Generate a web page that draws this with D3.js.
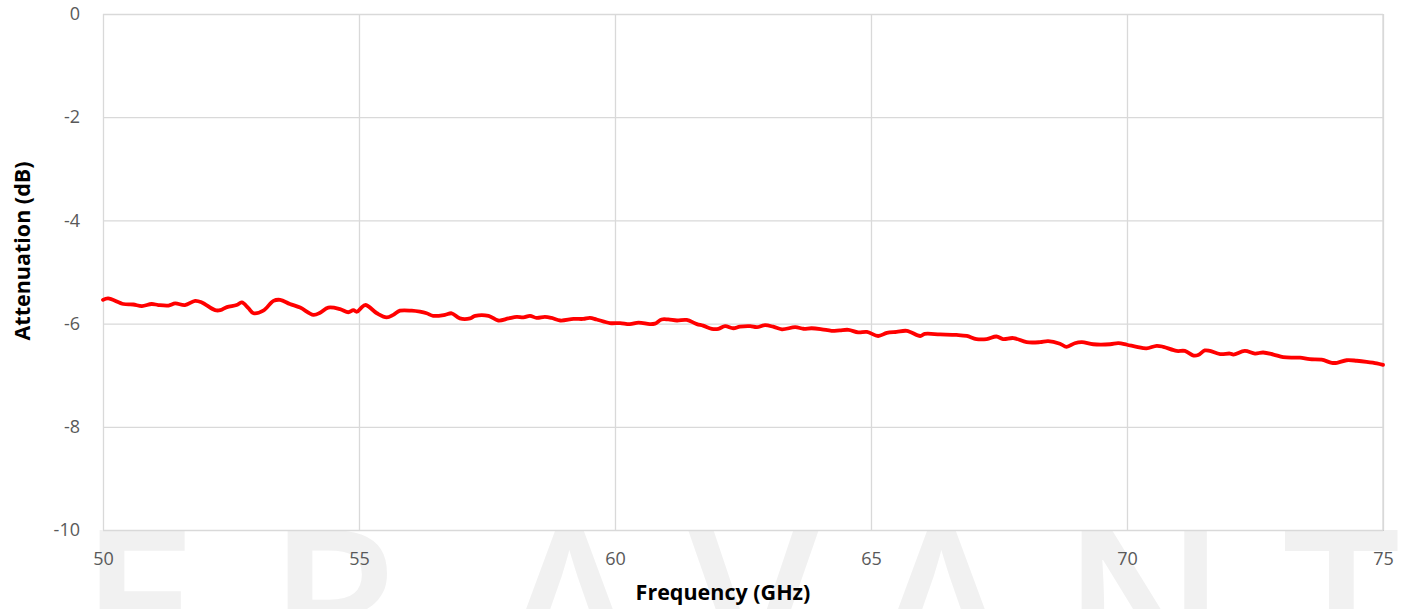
<!DOCTYPE html>
<html><head><meta charset="utf-8">
<script src="https://cdn.jsdelivr.net/npm/d3@7"></script>
<style>
html,body{margin:0;padding:0;background:#fff;}
svg{display:block;}
</style></head>
<body>
<svg id="chart" width="1409" height="609"></svg>
<script>
const freq = [50.00,50.10,50.40,50.59,50.76,50.95,51.08,51.28,51.41,51.60,51.80,51.93,52.19,52.29,52.42,52.61,52.71,52.84,52.94,53.13,53.33,53.46,53.65,53.85,54.11,54.24,54.40,54.63,54.79,54.89,54.96,55.12,55.35,55.54,55.67,55.80,56.03,56.19,56.32,56.45,56.68,56.81,56.97,57.17,57.27,57.53,57.72,57.92,58.08,58.21,58.34,58.47,58.63,58.76,58.93,59.19,59.38,59.51,59.64,59.90,60.10,60.29,60.46,60.68,60.78,60.91,61.04,61.21,61.40,61.60,61.72,61.89,62.02,62.15,62.31,62.44,62.64,62.77,62.93,63.09,63.26,63.52,63.68,63.84,64.04,64.23,64.39,64.56,64.75,64.92,65.14,65.31,65.50,65.70,65.96,66.05,66.35,66.67,66.87,67.06,67.26,67.45,67.58,67.78,68.04,68.30,68.46,68.69,68.82,68.98,69.12,69.34,69.67,69.83,70.00,70.19,70.38,70.58,70.71,70.97,71.13,71.30,71.39,71.52,71.62,71.82,72.01,72.08,72.30,72.50,72.66,72.86,73.05,73.25,73.38,73.57,73.80,74.00,74.10,74.29,74.49,74.68,74.88,75.00];
const attenuation = [-5.54,-5.51,-5.62,-5.63,-5.66,-5.62,-5.64,-5.65,-5.61,-5.64,-5.56,-5.59,-5.74,-5.74,-5.68,-5.64,-5.59,-5.70,-5.80,-5.75,-5.56,-5.54,-5.62,-5.69,-5.83,-5.79,-5.69,-5.72,-5.78,-5.74,-5.77,-5.64,-5.80,-5.88,-5.83,-5.75,-5.75,-5.77,-5.80,-5.85,-5.83,-5.80,-5.90,-5.90,-5.85,-5.85,-5.94,-5.90,-5.87,-5.88,-5.85,-5.89,-5.87,-5.89,-5.94,-5.91,-5.91,-5.89,-5.92,-5.99,-5.99,-6.01,-5.98,-6.01,-6.00,-5.92,-5.92,-5.94,-5.93,-6.01,-6.04,-6.10,-6.10,-6.05,-6.09,-6.06,-6.05,-6.07,-6.03,-6.06,-6.11,-6.07,-6.10,-6.09,-6.11,-6.14,-6.13,-6.12,-6.17,-6.16,-6.24,-6.18,-6.16,-6.14,-6.24,-6.20,-6.21,-6.22,-6.24,-6.30,-6.30,-6.25,-6.30,-6.28,-6.36,-6.36,-6.34,-6.39,-6.45,-6.38,-6.36,-6.40,-6.40,-6.38,-6.41,-6.45,-6.48,-6.43,-6.45,-6.53,-6.53,-6.62,-6.61,-6.52,-6.53,-6.59,-6.58,-6.60,-6.53,-6.58,-6.56,-6.60,-6.65,-6.66,-6.66,-6.69,-6.70,-6.76,-6.76,-6.71,-6.72,-6.74,-6.77,-6.80];
const xTicks = [50,55,60,65,70,75];
const yTicks = [0,-2,-4,-6,-8,-10];
const yTickLabels = ["0","-2","-4","-6","-8","-10"];
const xTitle = "Frequency (GHz)";
const yTitle = "Attenuation (dB)";
const watermark = ["E","R","A","V","A","N","T"];

const svg = d3.select("#chart");
const W = 1409, H = 609;
const m = {left:103, right:26, top:14, bottom:79};
const x = d3.scaleLinear().domain([50,75]).range([m.left, W-m.right]);
const y = d3.scaleLinear().domain([-10,0]).range([H-m.bottom, m.top]);
const font = "'Open Sans', 'Liberation Sans', sans-serif";

// watermark
const wmX = [80, 268, 500, 688, 872, 1062, 1282];
svg.append("g").selectAll("text").data(watermark).join("text")
  .attr("x",(d,i)=>wmX[i]).attr("y",680)
  .attr("font-family",font).attr("font-weight",600).attr("font-size",210).attr("fill","#f1f1f1")
  .text(d=>d);

// plot background
svg.append("rect").attr("x",x(50)).attr("y",y(0)).attr("width",x(75)-x(50)).attr("height",y(-10)-y(0)).attr("fill","#fff");

// grid
const gx = svg.append("g").attr("transform",`translate(0,${y(-10)})`)
  .call(d3.axisBottom(x).tickValues(xTicks).tickSize(-(y(-10)-y(0))).tickFormat(d=>d).tickPadding(19));
gx.select(".domain").attr("stroke","#bfbfbf");
gx.selectAll(".tick line").attr("stroke","#d9d9d9").attr("stroke-width",1.3);
gx.selectAll(".tick text").attr("font-family",font).attr("font-size",18).attr("fill","#595959").attr("dy","0.9em");

const gy = svg.append("g").attr("transform",`translate(${x(50)},0)`)
  .call(d3.axisLeft(y).tickValues(yTicks).tickSize(-(x(75)-x(50))).tickFormat((d,i)=>yTickLabels[i]).tickPadding(23));
gy.select(".domain").attr("stroke","#d9d9d9");
gy.selectAll(".tick line").attr("stroke","#d9d9d9").attr("stroke-width",1.3);
gy.selectAll(".tick text").attr("font-family",font).attr("font-size",18).attr("fill","#595959");

// border right
svg.append("line").attr("x1",x(75)).attr("x2",x(75)).attr("y1",y(0)).attr("y2",y(-10)).attr("stroke","#d9d9d9").attr("stroke-width",1.3);

// line
const pts = freq.map((f,i)=>[f,attenuation[i]]);
svg.append("path").datum(pts)
  .attr("fill","none").attr("stroke","#ff0000").attr("stroke-width",3.8).attr("stroke-linejoin","round").attr("stroke-linecap","round")
  .attr("d", d3.line().x(d=>x(d[0])).y(d=>y(d[1])).curve(d3.curveCatmullRom.alpha(0.5)));

// titles
svg.append("text").attr("x",723).attr("y",600).attr("text-anchor","middle")
  .attr("font-family",font).attr("font-weight","bold").attr("font-size",21.5).attr("fill","#000").text(xTitle);
svg.append("text").attr("transform","translate(30,251) rotate(-90)").attr("text-anchor","middle")
  .attr("font-family",font).attr("font-weight","bold").attr("font-size",21.5).attr("fill","#000").text(yTitle);
</script>
</body></html>
